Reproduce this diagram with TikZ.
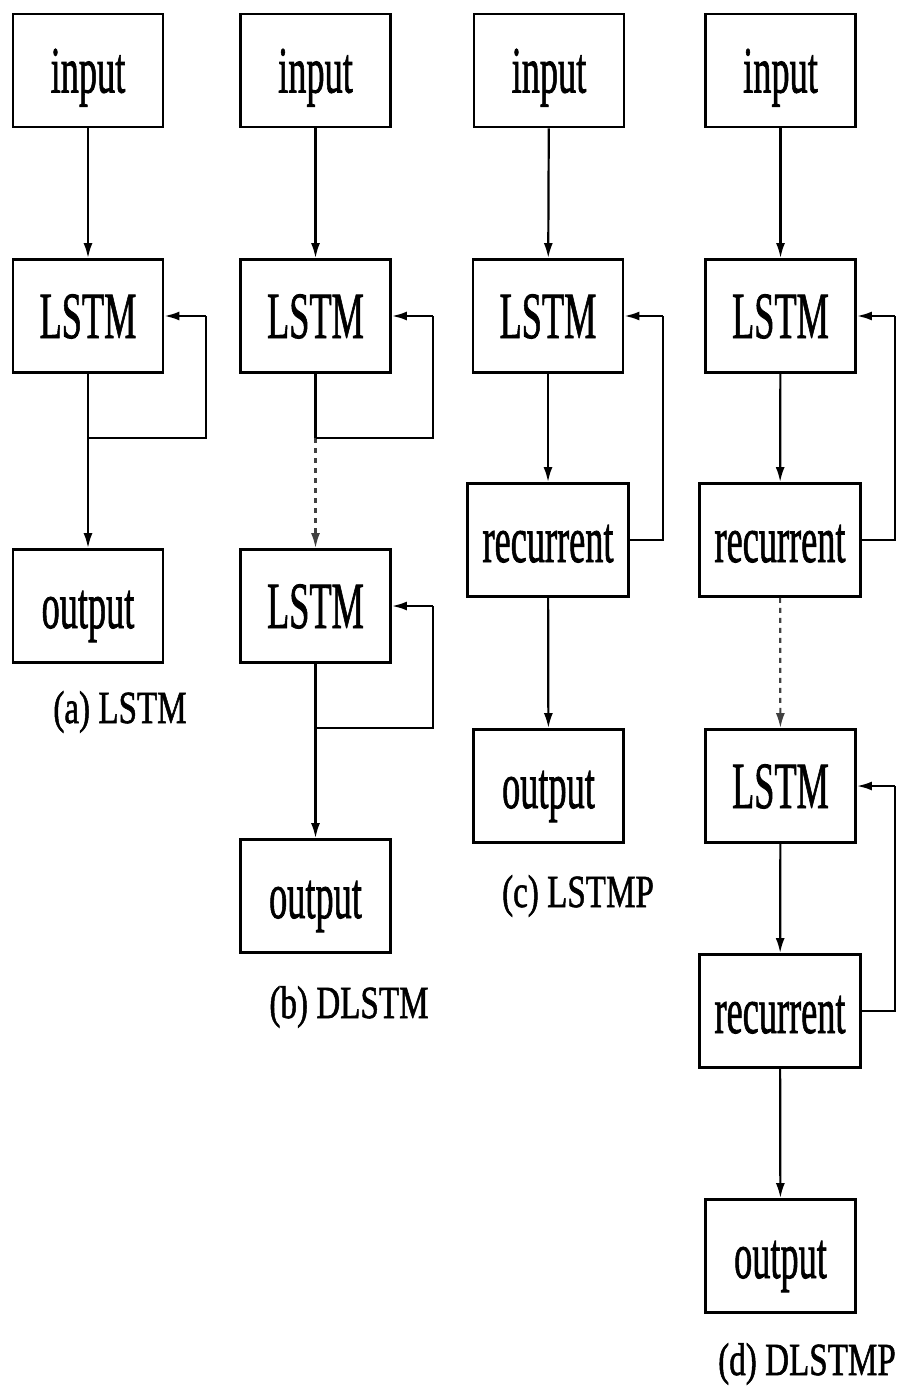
\documentclass[tikz,border=0pt]{standalone}
\usepackage{fontspec}
\setmainfont{Liberation Serif}[FakeBold=1.2]
\newfontfamily\heavyfont{Liberation Serif}[FakeBold=1.4]
\usetikzlibrary{arrows.meta}
\newcommand{\boxtxt}[1]{\scalebox{0.55}[1]{\heavyfont #1}}
\newcommand{\captxt}[1]{\scalebox{0.72}[1]{\heavyfont #1}}
\tikzset{
  blk/.style={draw, line width=2.8pt, minimum width=150pt, minimum height=113pt, inner sep=0pt,
    font=\fontsize{66}{66}\selectfont, text height=44pt, text depth=0pt},
  wblk/.style={blk, minimum width=161pt},
  captionlbl/.style={anchor=base, font=\fontsize{46}{46}\selectfont, inner sep=0pt},
  conn/.style={line width=2.2pt, -{Latex[length=15pt,width=9pt]}},
  wire/.style={line width=2.2pt},
  dots/.style={line width=2.2pt, black!75, dash pattern=on 5pt off 5pt, -{Latex[length=15pt,width=9pt]}}
}
\begin{document}
\begin{tikzpicture}[x=1pt,y=-1pt]
\useasboundingbox (0,0) rectangle (908,1396);
% (a) LSTM
\node[blk] (ai) at (88,70.5) {\boxtxt{input}};
\node[blk] (al) at (88,316) {\boxtxt{LSTM}};
\node[blk] (ao) at (88,606) {\boxtxt{output}};
\node[captionlbl] (ac) at (120,723) {\captxt{(a) LSTM}};
\coordinate (aj) at (88,438);
\coordinate (ar) at (206,438);
\coordinate (at) at (206,316);
\draw[conn] (ai) -- (al);
\draw[conn] (al) -- (ao);
\draw[wire] (aj) -- (ar) -- (at);
\draw[conn] (at) -- (al.east);
% (b) DLSTM
\node[blk] (bi) at (315.5,70.5) {\boxtxt{input}};
\node[blk] (bl) at (315.5,316) {\boxtxt{LSTM}};
\node[blk] (bm) at (315.5,606) {\boxtxt{LSTM}};
\node[blk] (bo) at (315.5,896) {\boxtxt{output}};
\node[captionlbl] (bc) at (349,1018) {\captxt{(b) DLSTM}};
\coordinate (bj) at (315.5,438);
\coordinate (br) at (433,438);
\coordinate (bt) at (433,316);
\coordinate (bj2) at (315.5,728);
\coordinate (br2) at (433,728);
\coordinate (bt2) at (433,606);
\draw[conn] (bi) -- (bl);
\draw[wire] (bl) -- (bj);
\draw[dots] (bj) -- (bm);
\draw[wire] (bj) -- (br) -- (bt);
\draw[conn] (bt) -- (bl.east);
\draw[conn] (bm) -- (bo);
\draw[wire] (bj2) -- (br2) -- (bt2);
\draw[conn] (bt2) -- (bm.east);
% (c) LSTMP
\node[blk] (ci) at (549,70.5) {\boxtxt{input}};
\node[blk] (cl) at (548,316) {\boxtxt{LSTM}};
\node[wblk] (cr) at (548,540) {\boxtxt{recurrent}};
\node[blk] (co) at (548.5,786) {\boxtxt{output}};
\node[captionlbl] (cc) at (578,907) {\captxt{(c) LSTMP}};
\coordinate (cr1) at (663,540);
\coordinate (ct) at (663,316);
\draw[conn] (ci) -- (cl);
\draw[conn] (cl) -- (cr);
\draw[conn] (cr) -- (co);
\draw[wire] (cr.east) -- (cr1) -- (ct);
\draw[conn] (ct) -- (cl.east);
% (d) DLSTMP
\node[blk] (di) at (780.5,70.5) {\boxtxt{input}};
\node[blk] (dl) at (780.5,316) {\boxtxt{LSTM}};
\node[wblk] (dr) at (780,540) {\boxtxt{recurrent}};
\node[blk] (dm) at (780.5,786) {\boxtxt{LSTM}};
\node[wblk] (dr2) at (780,1011) {\boxtxt{recurrent}};
\node[blk] (do) at (780.5,1256) {\boxtxt{output}};
\node[captionlbl] (dc) at (807,1375) {\captxt{(d) DLSTMP}};
\coordinate (dr1) at (895,540);
\coordinate (dt) at (895,316);
\coordinate (dr3) at (895,1011);
\coordinate (dt2) at (895,786);
\draw[conn] (di) -- (dl);
\draw[conn] (dl) -- (dr);
\draw[dots] (dr) -- (dm);
\draw[wire] (dr.east) -- (dr1) -- (dt);
\draw[conn] (dt) -- (dl.east);
\draw[conn] (dm) -- (dr2);
\draw[conn] (dr2) -- (do);
\draw[wire] (dr2.east) -- (dr3) -- (dt2);
\draw[conn] (dt2) -- (dm.east);
\end{tikzpicture}
\end{document}
